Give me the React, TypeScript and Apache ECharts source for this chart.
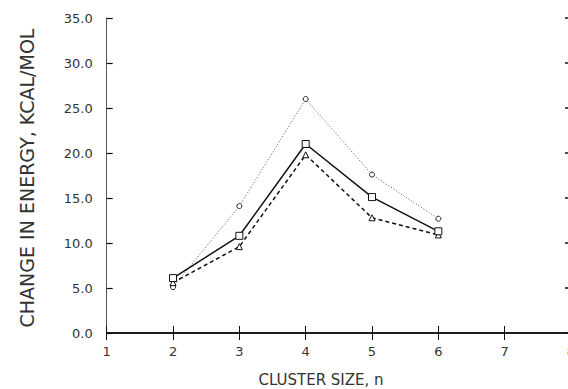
import React, { useEffect, useRef } from "react";
import * as echarts from "echarts";

const clusterSizes = [2, 3, 4, 5, 6];
const squareSeries = [6.1, 10.8, 21.0, 15.1, 11.3];
const circleSeries = [5.1, 14.1, 26.0, 17.6, 12.7];
const triangleSeries = [5.6, 9.6, 19.8, 12.8, 10.9];
const xTitle = "CLUSTER SIZE, n";
const yTitle = "CHANGE IN ENERGY, KCAL/MOL";

const FONT = "'DejaVu Sans', 'Liberation Sans', sans-serif";

function pairs(vals: number[]) {
  return clusterSizes.map((x, i) => [x, vals[i]]);
}

export default function App() {
  const ref = useRef<HTMLDivElement>(null);
  useEffect(() => {
    if (!ref.current) return;
    const chart = echarts.init(ref.current, null, { renderer: "svg" });
    const labelStyle = { fontFamily: FONT, fontSize: 13, color: "#333" };
    chart.setOption({
      animation: false,
      backgroundColor: "#fff",
      grid: { left: 106.7, top: 18, bottom: 56, right: 9 },
      xAxis: [
        {
          type: "value",
          min: 1,
          max: 8,
          interval: 1,
          axisLine: { lineStyle: { color: "#111", width: 1.5 } },
          axisTick: { inside: true, length: 7, lineStyle: { color: "#111", width: 1 } },
          axisLabel: { ...labelStyle, margin: 12, showMaxLabel: true, showMinLabel: true },
          splitLine: { show: false },
        },
        {
          type: "value",
          position: "top",
          min: 1,
          max: 8,
          interval: 1,
          axisLine: { lineStyle: { color: "#111", width: 1.5 } },
          axisTick: { inside: true, length: 7, lineStyle: { color: "#111", width: 1 } },
          axisLabel: { show: false },
          splitLine: { show: false },
        },
      ],
      yAxis: [
        {
          type: "value",
          min: 0,
          max: 35,
          interval: 5,
          axisLine: { show: true, lineStyle: { color: "#555", width: 1 } },
          axisTick: { show: true, inside: true, length: 6, lineStyle: { color: "#111", width: 1.2 } },
          axisLabel: { ...labelStyle, margin: 14, formatter: (v: number) => v.toFixed(1) },
          splitLine: { show: false },
        },
        {
          type: "value",
          position: "right",
          min: 0,
          max: 35,
          interval: 5,
          axisLine: { show: true, lineStyle: { color: "#111", width: 1 } },
          axisTick: { show: true, inside: true, length: 6, lineStyle: { color: "#111", width: 1.5 } },
          axisLabel: { show: false },
          splitLine: { show: false },
        },
      ],
      graphic: [
        {
          type: "text",
          x: 321,
          y: 380,
          style: {
            text: xTitle,
            fontFamily: FONT,
            fontSize: 15,
            fill: "#333",
            align: "center",
            verticalAlign: "middle",
          },
        },
        {
          type: "text",
          x: 27,
          y: 178,
          rotation: Math.PI / 2,
          style: {
            text: yTitle,
            fontFamily: FONT,
            fontSize: 19,
            fill: "#333",
            align: "center",
            verticalAlign: "middle",
          },
        },
      ],
      series: [
        {
          type: "line",
          data: pairs(circleSeries),
          symbol: "circle",
          symbolSize: 5,
          lineStyle: { color: "#555", width: 1, type: [1, 2] },
          itemStyle: { color: "#fff", borderColor: "#222", borderWidth: 1 },
          z: 2,
        },
        {
          type: "line",
          data: pairs(triangleSeries),
          symbol: "triangle",
          symbolSize: 6,
          lineStyle: { color: "#111", width: 1.5, type: [4, 3] },
          itemStyle: { color: "#fff", borderColor: "#111", borderWidth: 1 },
          z: 3,
        },
        {
          type: "line",
          data: pairs(squareSeries),
          symbol: "rect",
          symbolSize: 7,
          lineStyle: { color: "#111", width: 1.5, type: "solid" },
          itemStyle: { color: "#fff", borderColor: "#111", borderWidth: 1 },
          z: 4,
        },
      ],
    });
    return () => chart.dispose();
  }, []);
  return (
    <div
      ref={ref}
      style={{ position: "fixed", left: 0, top: 0, width: 580, height: 389 }}
    />
  );
}
